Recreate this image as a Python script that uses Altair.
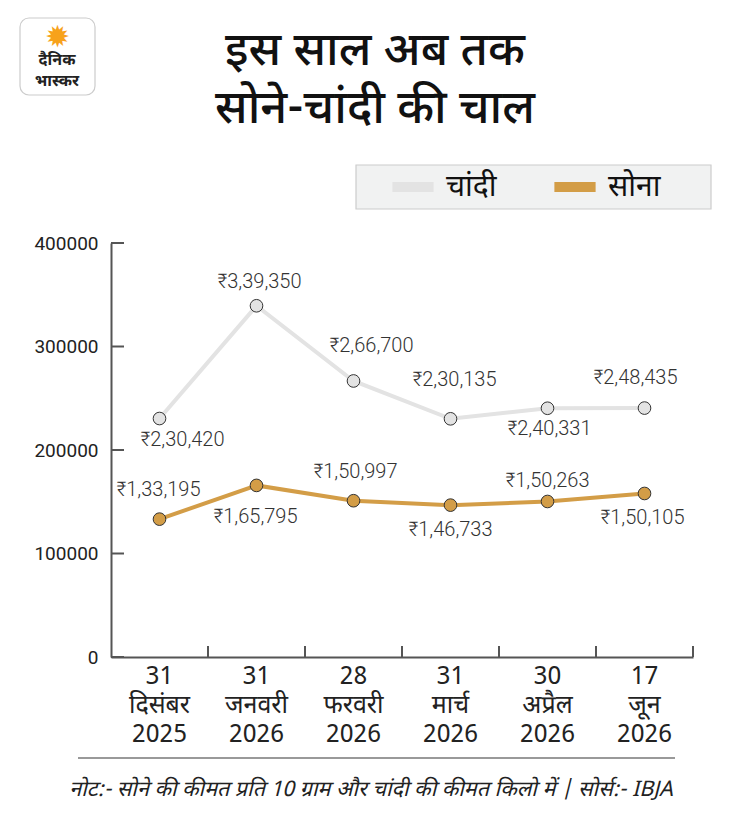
import altair as alt
import pandas as pd

# ---- data ----
dates = ["31|दिसंबर|2025", "31|जनवरी|2026", "28|फरवरी|2026",
         "31|मार्च|2026", "30|अप्रैल|2026", "17|जून|2026"]
series = ["चांदी", "सोना"]
silver = [230420, 339350, 266700, 230135, 240331, 240500]
gold = [133195, 165795, 150997, 146733, 150263, 158000]
silver_labels = ["₹2,30,420", "₹3,39,350", "₹2,66,700", "₹2,30,135", "₹2,40,331", "₹2,48,435"]
gold_labels = ["₹1,33,195", "₹1,65,795", "₹1,50,997", "₹1,46,733", "₹1,50,263", "₹1,50,105"]
y_ticks = [0, 100000, 200000, 300000, 400000]

title_lines = ["इस साल अब तक", "सोने-चांदी की चाल"]
footer = "नोट:- सोने की कीमत प्रति 10 ग्राम और चांदी की कीमत किलो में | सोर्स:- IBJA"
logo_lines = ["दैनिक", "भास्कर"]

# ---- label placement (pixels, relative to each point) ----
silver_dx = [23, 3, 18, 4, 2, -9]
silver_dy = [21, -24, -35, -39, 21, -30]
gold_dx = [-1, -1, 2, 0, 0, -2]
gold_dy = [-29, 32, -29, 25, -20, 25]

colors = ["#e3e3e3", "#d39d47"]
DEV = "Noto Sans Devanagari, Noto Sans, sans-serif"
NUM = "Roboto, sans-serif"
W, H = 582, 414
YMAX = 400000

df = pd.DataFrame({
    "date": dates * 2,
    "series": [series[0]] * 6 + [series[1]] * 6,
    "value": silver + gold,
    "label": silver_labels + gold_labels,
    "dx": silver_dx + gold_dx,
    "dy": silver_dy + gold_dy,
})

x_enc = alt.X("date:N", sort=dates, scale=alt.Scale(paddingInner=0, paddingOuter=0),
              axis=alt.Axis(title=None, labelAngle=0, ticks=False,
                            labelExpr="split(datum.label, '|')",
                            labelFont=DEV, labelFontSize=25, labelLineHeight=29,
                            labelColor="#222", labelPadding=6,
                            domainColor="#555", domainWidth=2))
y_enc = alt.Y("value:Q", scale=alt.Scale(domain=[0, YMAX], nice=False),
              axis=alt.Axis(title=None, values=y_ticks, format="d", ticks=False,
                            grid=False, labelFont=NUM, labelFontSize=19,
                            labelColor="#222", labelPadding=13,
                            domainColor="#555", domainWidth=2))
color_scale = alt.Scale(domain=series, range=colors)

base = alt.Chart(df)

legend_box = alt.Chart(pd.DataFrame({"a": [0]})).mark_rect(
    fill="#f1f2f2", stroke="#cccccc", strokeWidth=1.2).encode(
    x=alt.value(245), x2=alt.value(600), y=alt.value(-78), y2=alt.value(-34))

lines = base.mark_line(strokeWidth=4).encode(
    x=x_enc, y=y_enc,
    color=alt.Color("series:N", scale=color_scale, sort=series,
                    legend=alt.Legend(title=None, orient="none", legendX=276, legendY=-82,
                                      direction="horizontal", padding=0,
                                      symbolType="stroke", symbolStrokeWidth=10,
                                      symbolSize=1700, labelFont=DEV, labelFontSize=30,
                                      labelColor="#111", columnPadding=37, labelOffset=7)),
)
points = base.mark_point(filled=True, size=160, stroke="#333", strokeWidth=1, opacity=1).encode(
    x=alt.X("date:N", sort=dates), y="value:Q",
    color=alt.Color("series:N", scale=color_scale, legend=None),
)
labels = base.transform_calculate(
    ly=f"datum.value - datum.dy * {YMAX} / {H}",
    ox=f"datum.dx + {W} / 12",
).mark_text(font=NUM, fontSize=20, fontWeight=300, color="#333", baseline="middle").encode(
    x=alt.X("date:N", sort=dates),
    xOffset=alt.XOffset("ox:Q", scale=None),
    y="ly:Q",
    text="label:N",
)

tick_df = pd.DataFrame({"date": dates})
xticks = alt.Chart(tick_df).mark_rule(color="#555", strokeWidth=2).encode(
    x=alt.X("date:N", sort=dates, bandPosition=1),
    y=alt.value(H), y2=alt.value(H - 11),
)
yt_df = pd.DataFrame({"v": y_ticks})
yticks = alt.Chart(yt_df).mark_rule(color="#555", strokeWidth=2).encode(
    y=alt.Y("v:Q"), x=alt.value(0), x2=alt.value(13),
)

title_df = pd.DataFrame({"t": title_lines, "i": [0, 1]})
title = alt.Chart(title_df).transform_calculate(py="-178 + datum.i * 58").mark_text(
    font=DEV, fontSize=47, fontWeight=500, color="#111", align="center",
    baseline="alphabetic").encode(
    x=alt.value(264), y=alt.Y("py:Q", scale=None), text="t:N")

logo_box = alt.Chart(pd.DataFrame({"a": [0]})).mark_rect(
    cornerRadius=9, fill="white", stroke="#cccccc", strokeWidth=1.2).encode(
    x=alt.value(-91), x2=alt.value(-16), y=alt.value(-225), y2=alt.value(-148))
logo_sun = alt.Chart(pd.DataFrame({"s": ["✹"]})).mark_text(
    fontSize=30, color="#f7a21b", align="center", baseline="middle").encode(
    x=alt.value(-54), y=alt.value(-205), text="s:N")
logo_df = pd.DataFrame({"t": logo_lines, "i": [0, 1]})
logo_text = alt.Chart(logo_df).transform_calculate(py="-183 + datum.i * 21").mark_text(
    font=DEV, fontSize=16, fontWeight="bold", color="#222", align="center",
    baseline="middle").encode(x=alt.value(-54), y=alt.Y("py:Q", scale=None), text="t:N")

foot_rule = alt.Chart(pd.DataFrame({"a": [0]})).mark_rule(color="#999", strokeWidth=2).encode(
    x=alt.value(-33), x2=alt.value(564), y=alt.value(515))
foot_text = alt.Chart(pd.DataFrame({"t": [footer]})).mark_text(
    font=DEV, fontSize=21.5, fontStyle="italic", color="#222", align="center",
    baseline="middle").encode(x=alt.value(260), y=alt.value(547), text="t:N")

chart = alt.layer(
    legend_box, lines, points, labels, xticks, yticks, title, logo_box, logo_sun, logo_text,
    foot_rule, foot_text
).properties(
    width=W, height=H,
    autosize=alt.AutoSizeParams(type="none"),
    padding={"left": 103, "top": 235, "right": 29, "bottom": 157},
).configure(background="white").configure_view(stroke=None)

chart.save("out.html", embed_options={"renderer": "svg", "actions": False})
